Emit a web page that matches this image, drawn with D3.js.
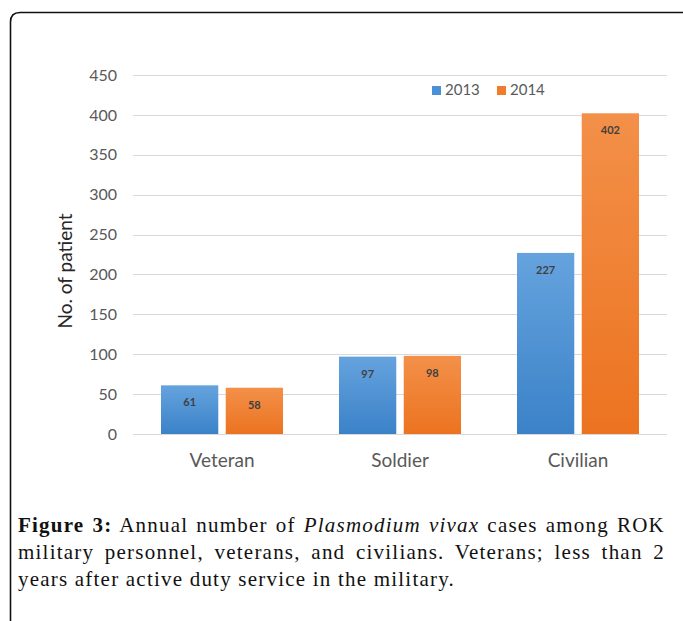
<!DOCTYPE html>
<html>
<head>
<meta charset="utf-8">
<script src="https://cdn.jsdelivr.net/npm/d3@7"></script>
<style>
  html, body { margin: 0; padding: 0; background: #fff; }
  svg { display: block; }
</style>
</head>
<body>
<svg id="chart" width="683" height="621"></svg>
<script>
// Annual Plasmodium vivax cases by group
const categories = ["Veteran", "Soldier", "Civilian"];
const years = ["2013", "2014"];
const cases2013 = [61, 97, 227];
const cases2014 = [58, 98, 402];
const yTicks = [0, 50, 100, 150, 200, 250, 300, 350, 400, 450];

const seriesColors = {
  "2013": { top: "#65a3de", bottom: "#3b82c8", legend: "#4a90d6" },
  "2014": { top: "#f39049", bottom: "#ec7320", legend: "#f07d2e" }
};

const svg = d3.select("#chart");
const defs = svg.append("defs");
years.forEach(y => {
  const g = defs.append("linearGradient")
    .attr("id", "grad" + y)
    .attr("x1", 0).attr("y1", 0).attr("x2", 0).attr("y2", 1);
  g.append("stop").attr("offset", "0%").attr("stop-color", seriesColors[y].top);
  g.append("stop").attr("offset", "100%").attr("stop-color", seriesColors[y].bottom);
});

// Outer frame (open on the right side)
svg.append("path")
  .attr("d", "M10.5,621 L10.5,22 Q10.5,12.5 20,12.5 L690,12.5")
  .attr("fill", "none")
  .attr("stroke", "#111")
  .attr("stroke-width", 1.6);

const plot = { left: 133, right: 667, top: 75, bottom: 434 };

const x = d3.scaleBand()
  .domain(categories)
  .range([plot.left, plot.right])
  .paddingInner(0)
  .paddingOuter(0);

const xSub = d3.scaleBand()
  .domain(years)
  .range([28, x.bandwidth() - 28])
  .paddingInner(0.115);

const y = d3.scaleLinear()
  .domain([0, 450])
  .range([plot.bottom, plot.top]);

// Gridlines
svg.append("g")
  .selectAll("line")
  .data(yTicks)
  .join("line")
  .attr("x1", plot.left).attr("x2", plot.right)
  .attr("y1", d => Math.round(y(d)) + 0.5)
  .attr("y2", d => Math.round(y(d)) + 0.5)
  .attr("stroke", "#d9d9d9")
  .attr("stroke-width", 1);

// Y axis tick labels
const yAxis = d3.axisLeft(y).tickValues(yTicks).tickSize(0).tickPadding(0);
const yg = svg.append("g")
  .attr("transform", `translate(117,0)`)
  .call(yAxis);
yg.select(".domain").remove();
yg.selectAll("text")
  .attr("font-family", "Lato, 'Open Sans', sans-serif")
  .attr("font-size", 16)
  .attr("fill", "#595959");

// Y axis title
svg.append("text")
  .attr("transform", "translate(72,271) rotate(-90)")
  .attr("text-anchor", "middle")
  .attr("font-family", "Lato, 'Open Sans', sans-serif")
  .attr("font-size", 19)
  .attr("fill", "#262626")
  .text("No. of patient");

// X axis category labels
const xAxis = d3.axisBottom(x).tickSize(0).tickPadding(0);
const xg = svg.append("g")
  .attr("transform", `translate(0,${plot.bottom + 19})`)
  .call(xAxis);
xg.select(".domain").remove();
xg.selectAll("text")
  .attr("font-family", "Lato, 'Open Sans', sans-serif")
  .attr("font-size", 19)
  .attr("fill", "#595959");

// Bars
const rows = categories.map((c, i) => ({
  category: c,
  values: [
    { year: "2013", value: cases2013[i] },
    { year: "2014", value: cases2014[i] }
  ]
}));

const groups = svg.append("g")
  .selectAll("g")
  .data(rows)
  .join("g")
  .attr("transform", d => `translate(${x(d.category)},0)`);

groups.selectAll("rect")
  .data(d => d.values)
  .join("rect")
  .attr("x", d => xSub(d.year))
  .attr("y", d => y(d.value))
  .attr("width", xSub.bandwidth())
  .attr("height", d => y(0) - y(d.value))
  .attr("fill", d => `url(#grad${d.year})`);

groups.selectAll("text.val")
  .data(d => d.values)
  .join("text")
  .attr("class", "val")
  .attr("x", d => xSub(d.year) + xSub.bandwidth() / 2)
  .attr("y", d => y(d.value) + 21)
  .attr("text-anchor", "middle")
  .attr("font-family", "Lato, 'Open Sans', sans-serif")
  .attr("font-size", 11)
  .attr("font-weight", "bold")
  .attr("fill", "#404040")
  .text(d => d.value);

// Legend
const legend = svg.append("g").attr("transform", "translate(432,90)");
const legendItems = legend.selectAll("g")
  .data(years)
  .join("g")
  .attr("transform", (d, i) => `translate(${i * 65},0)`);
legendItems.append("rect")
  .attr("x", 0).attr("y", -4)
  .attr("width", 9).attr("height", 9)
  .attr("fill", d => seriesColors[d].legend);
legendItems.append("text")
  .attr("x", 13).attr("y", 0)
  .attr("dy", "0.35em")
  .attr("font-family", "Lato, 'Open Sans', sans-serif")
  .attr("font-size", 15)
  .attr("fill", "#595959")
  .text(d => d);

// Caption, justified between the left and right margins
const captionLeft = 18, captionWidth = 647, lastLineWidth = 437;
const caption = svg.append("g")
  .attr("font-family", "'Liberation Serif', 'Times New Roman', serif")
  .attr("font-size", 21)
  .attr("fill", "#111");

const line3 = caption.append("text")
  .attr("x", captionLeft).attr("y", 586)
  .text("years after active duty service in the military.");

// Widen the tracking so the last line fills its natural measure
const natural3 = line3.node().getComputedTextLength();
const tracking = Math.max(0, (lastLineWidth - natural3) / line3.text().length);
line3.attr("letter-spacing", tracking);
caption.attr("letter-spacing", tracking);

function justify(textSel) {
  const node = textSel.node();
  const natural = node.getComputedTextLength();
  const spaces = (node.textContent.match(/ /g) || []).length;
  if (spaces > 0 && natural < captionWidth) {
    textSel.attr("word-spacing", (captionWidth - natural) / spaces);
  }
}

const line1 = caption.append("text")
  .attr("x", captionLeft).attr("y", 532)
  .attr("xml:space", "preserve");
line1.append("tspan").attr("font-weight", "bold").text("Figure 3:");
line1.append("tspan").text(" Annual number of ");
line1.append("tspan").attr("font-style", "italic").text("Plasmodium vivax");
line1.append("tspan").text(" cases among ROK");
justify(line1);

const line2 = caption.append("text")
  .attr("x", captionLeft).attr("y", 559)
  .text("military personnel, veterans, and civilians. Veterans; less than 2");
justify(line2);
</script>
</body>
</html>
